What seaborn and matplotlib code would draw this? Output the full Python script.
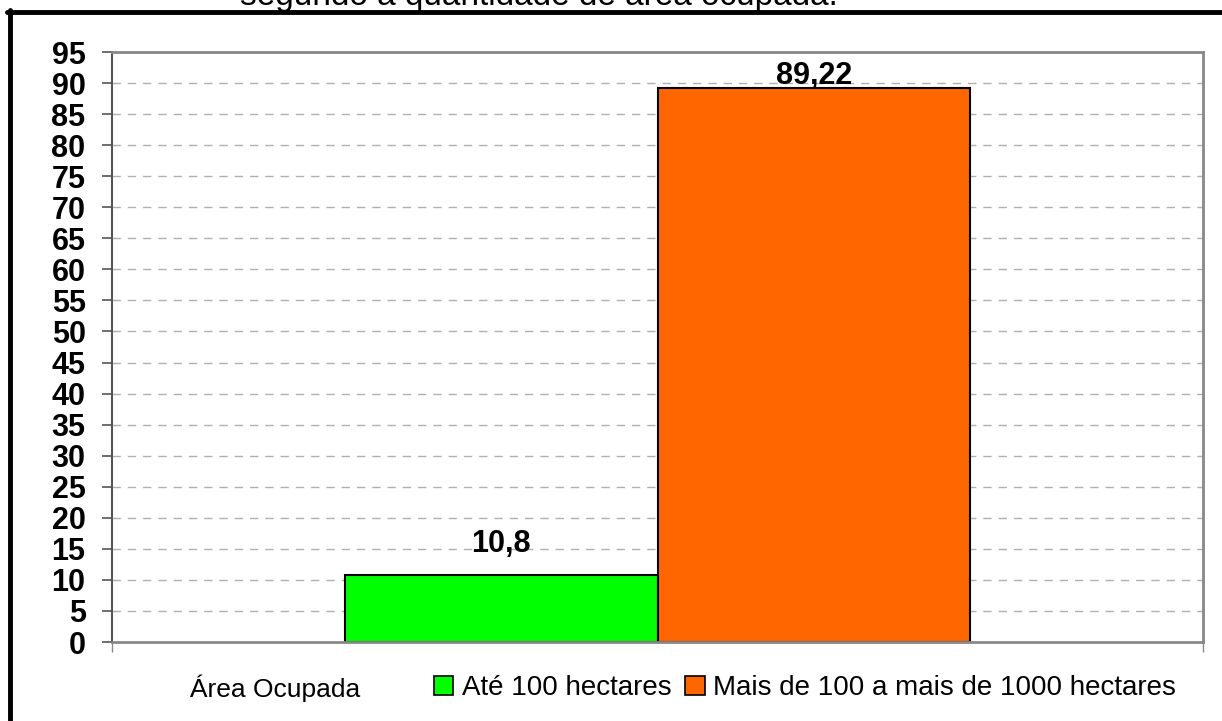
import pandas as pd
import matplotlib
matplotlib.use('Agg')
import matplotlib.pyplot as plt
import matplotlib.patches as mpatches
from matplotlib.lines import Line2D
import seaborn as sns

# dados do gráfico
categoria = ['Área Ocupada']
series = ['Até 100 hectares', 'Mais de 100 a mais de 1000 hectares']
valores = [10.8, 89.22]
rotulos = ['10,8', '89,22']
cores = ['#00FF00', '#FF6600']
yticks = list(range(0, 100, 5))

df = pd.DataFrame({'cat': categoria * len(series), 'serie': series, 'valor': valores})

sns.set_style("white")
plt.rcParams['font.family'] = ['Liberation Sans', 'DejaVu Sans']
plt.rcParams['text.color'] = 'black'
plt.rcParams['ytick.color'] = 'black'
plt.rcParams['xtick.color'] = 'black'

fig = plt.figure(figsize=(12.22, 7.21), dpi=100)
ax = fig.add_axes([112 / 1222, 79 / 721, 1091 / 1222, 590 / 721])

sns.barplot(data=df, x='cat', y='valor', hue='serie', palette=cores, width=0.573,
            edgecolor='black', linewidth=1.5, saturation=1, ax=ax, legend=False)

ax.set_ylim(0, 95)
ax.set_xlim(-0.5, 0.5)
ax.set_yticks(yticks)
ax.set_yticklabels([str(t) for t in yticks], fontsize=22, fontweight='bold', color='black')
ax.tick_params(axis='y', length=7, width=1.2, color='#555555', pad=12, left=True)
ax.set_xticks([-0.5, 0.5])
ax.set_xticklabels(['', ''])
ax.tick_params(axis='x', length=7, width=1, color='#888888', bottom=True)
ax.set_xlabel('')
ax.set_ylabel('')

# grade tracejada
for t in yticks[1:]:
    ax.axhline(t, color='#b0b0b0', linestyle=(0, (6, 5)), linewidth=1, zorder=0)

for s in ['top', 'right', 'bottom']:
    ax.spines[s].set_color('#888888')
    ax.spines[s].set_linewidth(2)
ax.spines['left'].set_color('#555555')
ax.spines['left'].set_linewidth(1.5)

# rótulos das barras
offsets = [16.5, 3]
for cont, lab, off in zip(ax.containers, rotulos, offsets):
    bar = cont.patches[0]
    ax.annotate(lab, (bar.get_x() + bar.get_width() / 2, bar.get_height()),
                xytext=(0, off), textcoords='offset points', ha='center', va='baseline',
                fontsize=22, fontweight='bold', color='black')

# legenda abaixo
fig.text(190 / 1222, 1 - 688 / 721, 'Área Ocupada', fontsize=19, va='center', ha='left')
handles = [mpatches.Patch(facecolor=c, edgecolor='black', linewidth=1.2, label=s)
           for c, s in zip(cores, series)]
leg = fig.legend(handles=handles, loc='center left', bbox_to_anchor=(434 / 1222, 1 - 688 / 721),
                 ncol=2, frameon=False, fontsize=20, handlelength=0.7, handleheight=0.7,
                 handletextpad=0.3, columnspacing=0.5, borderpad=0, borderaxespad=0)
for txt in leg.get_texts():
    txt.set_color('black')

# título cortado no topo
fig.text(240 / 1222, 1 - 5 / 721, 'segundo a quantidade de área ocupada.', fontsize=24,
         va='baseline', ha='left')

# moldura
fig.add_artist(Line2D([7 / 1222, 1], [1 - 12 / 721, 1 - 12 / 721], color='black', linewidth=3.5,
                      transform=fig.transFigure))
fig.add_artist(Line2D([9.5 / 1222, 9.5 / 1222], [0, 1 - 10 / 721], color='black', linewidth=3.5,
                      transform=fig.transFigure))

fig.savefig('out.png', dpi=100)
